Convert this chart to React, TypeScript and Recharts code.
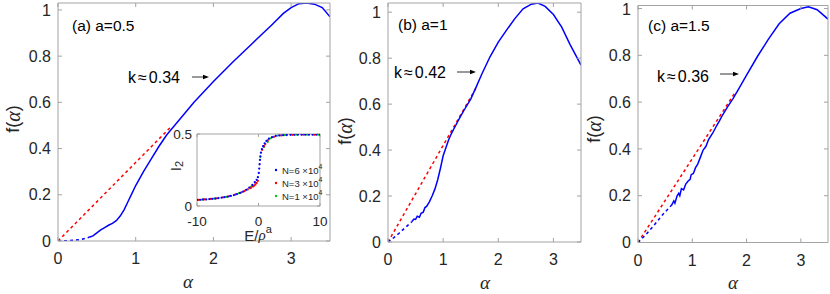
import { LineChart, Line, XAxis, YAxis, ScatterChart, Scatter } from "recharts";

const FONT = "'Liberation Sans', Arial, Helvetica, sans-serif";
const SERIF = "'Liberation Serif', 'Times New Roman', serif";
const AXIS = "#a3a3a3";
const TXT = "#262626";
const BLUE = "#0000ff";
const RED = "#ff0000";
const GREEN = "#00cc00";

// panel (a) a=0.5
const aDashAlpha = [0, 0.1, 0.2, 0.3, 0.4];
const aDashF = [0, 0.001, 0.003, 0.007, 0.016];
const aAlpha = [0.4, 0.45, 0.5, 0.55, 0.6, 0.65, 0.7, 0.75, 0.8, 0.85, 0.9, 0.95, 1.0, 1.1, 1.2, 1.3, 1.4, 1.5, 1.75, 2.0, 2.25, 2.5, 2.75, 2.9, 3.0, 3.1, 3.2, 3.3, 3.4, 3.5];
const aF = [0.016, 0.022, 0.035, 0.048, 0.058, 0.068, 0.076, 0.088, 0.108, 0.135, 0.17, 0.205, 0.24, 0.3, 0.355, 0.41, 0.46, 0.5, 0.6, 0.69, 0.775, 0.855, 0.935, 0.985, 1.01, 1.027, 1.03, 1.025, 1.01, 0.97];
const aFitAlpha = [0, 1.45];
const aFitF = [0, 0.493];

// panel (b) a=1
const bDashAlpha = [0, 0.1, 0.2, 0.3, 0.43];
const bDashF = [0, 0.018, 0.038, 0.06, 0.088];
const bAlpha = [0.43, 0.47, 0.5, 0.53, 0.57, 0.6, 0.64, 0.67, 0.7, 0.75, 0.8, 0.85, 0.9, 0.95, 1.0, 1.05, 1.1, 1.15, 1.2, 1.3, 1.4, 1.5, 1.6, 1.7, 1.85, 2.0, 2.15, 2.3, 2.45, 2.6, 2.72, 2.85, 3.0, 3.15, 3.3, 3.5];
const bF = [0.088, 0.1, 0.098, 0.112, 0.108, 0.125, 0.13, 0.15, 0.155, 0.175, 0.2, 0.23, 0.27, 0.32, 0.375, 0.41, 0.445, 0.472, 0.495, 0.54, 0.582, 0.622, 0.675, 0.73, 0.806, 0.87, 0.922, 0.972, 1.015, 1.035, 1.04, 1.025, 0.99, 0.935, 0.86, 0.77];
const bFitAlpha = [0, 1.6];
const bFitF = [0, 0.672];

// panel (c) a=1.5
const cDashAlpha = [0, 0.15, 0.3, 0.45, 0.62];
const cDashF = [0, 0.035, 0.075, 0.118, 0.16];
const cAlpha = [0.62, 0.66, 0.68, 0.72, 0.75, 0.77, 0.8, 0.84, 0.88, 0.92, 0.96, 0.98, 1.02, 1.06, 1.1, 1.15, 1.2, 1.25, 1.3, 1.375, 1.45, 1.5, 1.56, 1.65, 1.75, 1.85, 2.0, 2.2, 2.4, 2.6, 2.8, 3.0, 3.14, 3.3, 3.5];
const cF = [0.16, 0.178, 0.168, 0.2, 0.21, 0.2, 0.23, 0.225, 0.25, 0.262, 0.27, 0.29, 0.295, 0.32, 0.335, 0.365, 0.395, 0.41, 0.44, 0.467, 0.5, 0.52, 0.546, 0.58, 0.615, 0.655, 0.715, 0.795, 0.868, 0.935, 0.98, 1.0, 1.008, 0.995, 0.955];
const cFitAlpha = [0, 1.8];
const cFitF = [0, 0.645];

// inset: I2 vs E/rho^a
const e6 = [-10, -9.5, -9, -8.5, -8, -7.5, -7, -6.5, -6, -5.5, -5, -4.5, -4, -3.5, -3, -2.5, -2, -1.5, -1, -0.6, -0.3, -0.1, 0.05, 0.12, 0.18, 0.24, 0.3, 0.4, 0.55, 0.75, 1, 1.3, 1.7, 2.2, 2.8, 3.4, 4, 4.6, 5.2, 5.8, 6.4, 7, 7.6, 8.2, 8.8, 9.4, 10];
const i6 = [0.042, 0.043, 0.045, 0.046, 0.048, 0.05, 0.052, 0.055, 0.058, 0.061, 0.065, 0.07, 0.076, 0.083, 0.091, 0.1, 0.112, 0.127, 0.146, 0.165, 0.182, 0.2, 0.23, 0.26, 0.29, 0.32, 0.345, 0.37, 0.395, 0.415, 0.435, 0.452, 0.467, 0.478, 0.486, 0.49, 0.492, 0.493, 0.494, 0.494, 0.495, 0.495, 0.495, 0.495, 0.495, 0.495, 0.495];
const e3 = [-9.75, -8.75, -7.75, -6.75, -5.75, -4.75, -3.75, -2.75, -2.25, -1.75, -1.25, -0.9, -0.7, -0.5, -0.3, -0.1, 0.6, 0.9, 1.1, 1.5, 2.5, 3.7, 5.5, 7.3, 9.1];
const i3 = [0.043, 0.046, 0.049, 0.053, 0.06, 0.068, 0.08, 0.095, 0.104, 0.115, 0.125, 0.135, 0.142, 0.15, 0.16, 0.175, 0.39, 0.415, 0.43, 0.455, 0.48, 0.49, 0.494, 0.495, 0.495];
const e1 = [-9.2, -7.2, -5.2, -3.2, -1.2, 0.3, 0.9, 1.5, 2.0, 3.1, 4.3, 6.1, 7.9, 9.7];
const i1 = [0.044, 0.051, 0.064, 0.088, 0.135, 0.34, 0.41, 0.445, 0.47, 0.489, 0.493, 0.495, 0.495, 0.495];

const pts = (xs: number[], ys: number[]) => xs.map((x, i) => ({ x, y: ys[i] }));

const tickStyle = { fill: TXT, fontSize: 16, fontFamily: FONT };
const blank = () => "";

// plot box given in page pixels; axes take 1px each, so margins shrink by 1
function Panel({ left, width, box, yMax, dash, solid, fit }: {
  left: number;
  width: number;
  box: { x0: number; x1: number; y0: number; y1: number };
  yMax: number;
  dash: { x: number; y: number }[];
  solid: { x: number; y: number }[];
  fit: { x: number; y: number }[];
}) {
  const xt = [0, 1, 2, 3];
  const yt = [0, 0.2, 0.4, 0.6, 0.8, 1];
  const margin = {
    top: box.y0 - 1,
    bottom: 294 - box.y1 - 1,
    left: box.x0 - left - 1,
    right: left + width - box.x1 - 1,
  };
  return (
    <div style={{ position: "absolute", left, top: 0 }}>
      <LineChart width={width} height={294} margin={margin}>
        <XAxis xAxisId="b" type="number" dataKey="x" domain={[0, 3.5]} ticks={xt} height={1}
          stroke={AXIS} tickSize={-4} tickMargin={16} tick={tickStyle} allowDataOverflow />
        <XAxis xAxisId="t" orientation="top" type="number" dataKey="x" domain={[0, 3.5]} ticks={xt} height={1}
          stroke={AXIS} tickSize={-4} tickFormatter={blank} allowDataOverflow />
        <YAxis yAxisId="l" type="number" domain={[0, yMax]} ticks={yt} width={1}
          stroke={AXIS} tickSize={-4} tickMargin={11} tick={tickStyle} allowDataOverflow />
        <YAxis yAxisId="r" orientation="right" type="number" domain={[0, yMax]} ticks={yt} width={1}
          stroke={AXIS} tickSize={-4} tickFormatter={blank} allowDataOverflow />
        <Line xAxisId="t" yAxisId="r" data={solid} dataKey="y" stroke="none" dot={false} isAnimationActive={false} />
        <Line xAxisId="b" yAxisId="l" data={fit} dataKey="y" stroke={RED} strokeWidth={1.5} strokeDasharray="3 3" dot={false} isAnimationActive={false} />
        <Line xAxisId="b" yAxisId="l" data={dash} dataKey="y" stroke={BLUE} strokeWidth={1.5} strokeDasharray="3 3" dot={false} isAnimationActive={false} />
        <Line xAxisId="b" yAxisId="l" data={solid} dataKey="y" stroke={BLUE} strokeWidth={1.5} dot={false} isAnimationActive={false} />
      </LineChart>
    </div>
  );
}

const dotShape = (color: string) => (p: any) => <circle cx={p.cx} cy={p.cy} r={1.15} fill={color} />;

function Inset() {
  const insetTick = { fill: TXT, fontSize: 13.5, fontFamily: FONT };
  // box: x 197..320, y 134..206 ; div at (150,110), 180x130
  return (
    <div style={{ position: "absolute", left: 150, top: 110 }}>
      <ScatterChart width={180} height={130} margin={{ top: 23, right: 9, bottom: 33, left: 46 }}>
        <XAxis xAxisId="b" type="number" dataKey="x" domain={[-10, 10]} ticks={[-10, 0, 10]} height={1}
          stroke={AXIS} tickSize={-3} tickMargin={13} tick={insetTick} allowDataOverflow />
        <XAxis xAxisId="t" orientation="top" type="number" dataKey="x" domain={[-10, 10]} ticks={[-10, 0, 10]} height={1}
          stroke={AXIS} tickSize={-3} tickFormatter={blank} allowDataOverflow />
        <YAxis yAxisId="l" type="number" dataKey="y" domain={[0, 0.5]} ticks={[0, 0.5]} width={1}
          stroke={AXIS} tickSize={-3} tickMargin={8} tick={insetTick} allowDataOverflow />
        <YAxis yAxisId="r" orientation="right" type="number" dataKey="y" domain={[0, 0.5]} ticks={[0, 0.5]} width={1}
          stroke={AXIS} tickSize={-3} tickFormatter={blank} allowDataOverflow />
        <Scatter xAxisId="t" yAxisId="r" data={pts(e6, i6)} shape={() => <g />} isAnimationActive={false} />
        <Scatter xAxisId="b" yAxisId="l" data={pts(e1, i1)} shape={dotShape(GREEN)} isAnimationActive={false} />
        <Scatter xAxisId="b" yAxisId="l" data={pts(e3, i3)} shape={dotShape(RED)} isAnimationActive={false} />
        <Scatter xAxisId="b" yAxisId="l" data={pts(e6, i6)} shape={dotShape(BLUE)} isAnimationActive={false} />
      </ScatterChart>
    </div>
  );
}

function Arrow({ x1, x2, y }: { x1: number; x2: number; y: number }) {
  return (
    <g>
      <line x1={x1} y1={y} x2={x2 - 4} y2={y} stroke="#000" strokeWidth={0.8} />
      <polygon points={`${x2},${y} ${x2 - 6},${y - 2.2} ${x2 - 6},${y + 2.2}`} fill="#000" />
    </g>
  );
}

function FLabel({ x, y }: { x: number; y: number }) {
  return (
    <text x={x} y={y} transform={`rotate(-90 ${x} ${y})`} textAnchor="middle" dominantBaseline="central"
      fontFamily={FONT} fontSize={18} fill={TXT}>
      f(<tspan fontFamily={SERIF} fontStyle="italic" fontSize={20}>α</tspan>)
    </text>
  );
}

function KLabel({ x, y, k }: { x: number; y: number; k: string }) {
  return (
    <text x={x} y={y} fontFamily={FONT} fontSize={16} fill="#000" dominantBaseline="central">
      k<tspan dx={2}>≈</tspan><tspan dx={2}>{k}</tspan>
    </text>
  );
}

function Overlay() {
  const ann = { fontFamily: FONT, fontSize: 15.5, fill: "#000", dominantBaseline: "central" as const };
  const alpha = { fontFamily: SERIF, fontStyle: "italic", fontSize: 19, fill: TXT, textAnchor: "middle" as const, dominantBaseline: "central" as const };
  const leg = { fontFamily: FONT, fontSize: 9.5, fill: TXT, dominantBaseline: "central" as const };
  const legRows = [
    { n: "6", c: BLUE, y: 170 },
    { n: "3", c: RED, y: 183 },
    { n: "1", c: GREEN, y: 196 },
  ];
  return (
    <svg width={830} height={294} style={{ position: "absolute", left: 0, top: 0, pointerEvents: "none" }}>
      <text x={72} y={25} {...ann}>(a) a=0.5</text>
      <KLabel x={128} y={77} k="0.34" />
      <Arrow x1={192} x2={209} y={77} />
      <text x={398} y={24} {...ann}>(b) a=1</text>
      <KLabel x={394} y={72} k="0.42" />
      <Arrow x1={457} x2={476} y={72} />
      <text x={648} y={25} {...ann}>(c) a=1.5</text>
      <KLabel x={657} y={76} k="0.36" />
      <Arrow x1={720} x2={739} y={74} />

      <FLabel x={13} y={119} />
      <FLabel x={345} y={131} />
      <FLabel x={594} y={129} />
      <text x={188} y={281} {...alpha}>α</text>
      <text x={485} y={282} {...alpha}>α</text>
      <text x={733} y={282} {...alpha}>α</text>

      <text x={175} y={166} transform="rotate(-90 175 166)" textAnchor="middle" dominantBaseline="central"
        fontFamily={FONT} fontSize={15} fill={TXT}>
        I<tspan fontSize={11} dy={4}>2</tspan>
      </text>
      <text x={258} y={235} textAnchor="middle" dominantBaseline="central" fontFamily={FONT} fontSize={15} fill={TXT}>
        E/<tspan fontFamily={SERIF} fontStyle="italic">ρ</tspan><tspan fontSize={11} dy={-6}>a</tspan>
      </text>
      {legRows.map((r) => (
        <g key={r.n}>
          <circle cx={276} cy={r.y} r={1.2} fill={r.c} />
          <text x={282} y={r.y} {...leg}>
            N={r.n} ×10<tspan fontSize={7} dy={-4}>4</tspan>
          </text>
        </g>
      ))}
    </svg>
  );
}

export default function App() {
  return (
    <div style={{ position: "absolute", left: 0, top: 0, width: 830, height: 294, background: "#fff", overflow: "hidden" }}>
      <Panel left={0} width={340} box={{ x0: 58, x1: 330, y0: 3, y1: 241 }} yMax={1.03}
        dash={pts(aDashAlpha, aDashF)} solid={pts(aAlpha, aF)} fit={pts(aFitAlpha, aFitF)} />
      <Panel left={340} width={250} box={{ x0: 388, x1: 581, y0: 3, y1: 242 }} yMax={1.04}
        dash={pts(bDashAlpha, bDashF)} solid={pts(bAlpha, bF)} fit={pts(bFitAlpha, bFitF)} />
      <Panel left={590} width={240} box={{ x0: 638, x1: 828, y0: 5.5, y1: 242.5 }} yMax={1.013}
        dash={pts(cDashAlpha, cDashF)} solid={pts(cAlpha, cF)} fit={pts(cFitAlpha, cFitF)} />
      <Inset />
      <Overlay />
    </div>
  );
}
